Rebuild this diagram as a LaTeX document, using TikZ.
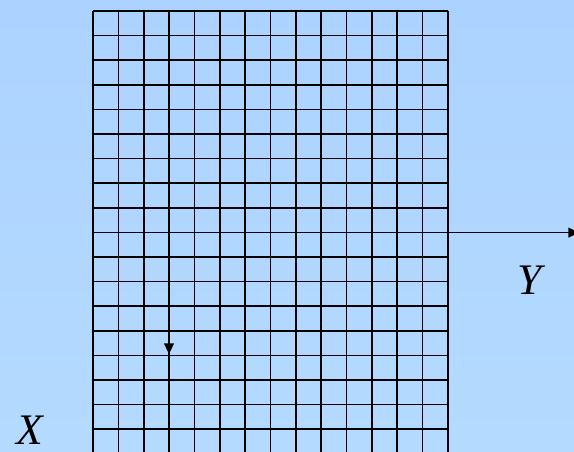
\documentclass[tikz,border=0pt]{standalone}
\usepackage{fontspec}
\setmainfont{Liberation Serif}
\usetikzlibrary{arrows.meta}
\definecolor{bgtop}{RGB}{172,211,255}
\definecolor{bgmid}{RGB}{153,204,255}
\definecolor{bgbot}{RGB}{180,218,255}
\tikzset{
  gridline/.style={line width=1.2pt, black},
  axis/.style={line width=0.8pt, black, -{Triangle[length=7.5pt,width=7pt]}},
  axislabel/.style={inner sep=0pt, font=\fontsize{31}{31}\selectfont\itshape}
}
\begin{document}
\begin{tikzpicture}[x=0.025cm, y=0.025cm, line cap=butt, line join=miter]
  \def\cols{14}
  \def\dx{25.357}
  \def\dy{24.6}

  % sfondo
  \useasboundingbox (0,0) rectangle (574,452);
  \clip (0,0) rectangle (574,452);
  \shade[top color=bgtop, middle color=bgmid, bottom color=bgbot] (0,0) rectangle (574,452);

  % griglia
  \foreach \i in {0,...,\cols}
    \draw[gridline] ({93+\i*\dx},441) -- ({93+\i*\dx},-5);
  \foreach \j in {0,...,17}
    \draw[gridline] (93,{441-\j*\dy}) -- (448,{441-\j*\dy});

  % assi
  \coordinate (ystart) at (448,219.4);
  \coordinate (yend) at (579,219.4);
  \draw[axis] (ystart) -- (yend);

  \coordinate (xstart) at (169,334);
  \coordinate (xend) at (169,98);
  \draw[axis] (xstart) -- (xend);

  % etichette
  \node[axislabel] (lblY) at (530,172) {Y};
  \node[axislabel] (lblX) at (30,22) {X};
\end{tikzpicture}
\end{document}
